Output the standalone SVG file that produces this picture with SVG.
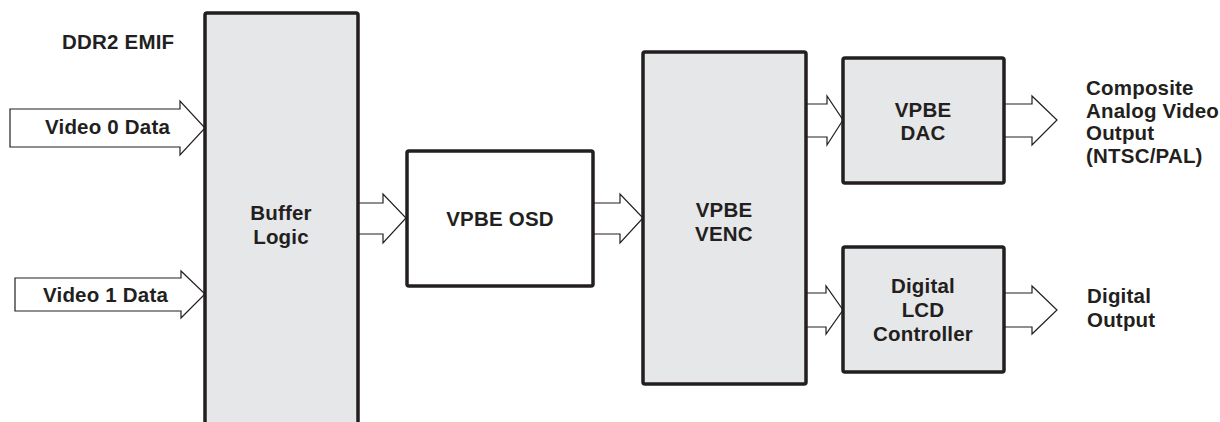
<svg xmlns="http://www.w3.org/2000/svg" width="1220" height="422" viewBox="0 0 1220 422">
<style>
.box{fill:#e6e7e8;stroke:#231f20;stroke-width:3.5;stroke-linejoin:round}
.wbox{fill:#ffffff;stroke:#231f20;stroke-width:3.5;stroke-linejoin:round}
.arr{fill:#ffffff;stroke:#231f20;stroke-width:1.2;stroke-linejoin:miter}
text{font-family:"Liberation Sans",Arial,sans-serif;font-weight:bold;font-size:20.5px;letter-spacing:0.2px;fill:#231f20}
.c{text-anchor:middle}
</style>
<rect width="1220" height="422" fill="#ffffff"/>
<g id="connectors">
<polygon class="arr" points="10,109 180,109 180,101 205,128 180,155 180,147 10,147"/>
<polygon class="arr" points="15,278 181,278 181,271 205,294 181,318 181,311 15,311"/>
<polygon class="arr" points="358,203 383,203 383,194 406,218 383,243 383,234 358,234"/>
<polygon class="arr" points="593,203 620,203 620,194 643,218 620,243 620,234 593,234"/>
<polygon class="arr" points="806,104 827,104 827,96 843,120 827,145 827,137 806,137"/>
<polygon class="arr" points="1004,104 1032,104 1032,96 1057,120 1032,145 1032,137 1004,137"/>
<polygon class="arr" points="806,293 826,293 826,286 843,310 826,334 826,327 806,327"/>
<polygon class="arr" points="1004,293 1032,293 1032,286 1057,310 1032,334 1032,327 1004,327"/>
</g>
<g id="ddr2-label"><text x="62" y="49">DDR2 EMIF</text></g>
<g id="video0-label"><text x="45" y="134">Video 0 Data</text></g>
<g id="video1-label"><text x="43" y="302">Video 1 Data</text></g>
<g id="buffer-logic">
<rect class="box" x="205" y="13" width="153" height="420" rx="2"/>
<text class="c" x="281" y="220">Buffer</text>
<text class="c" x="281" y="244">Logic</text>
</g>
<g id="vpbe-osd">
<rect class="wbox" x="407" y="151" width="186" height="135" rx="2"/>
<text class="c" x="500" y="226">VPBE OSD</text>
</g>
<g id="vpbe-venc">
<rect class="box" x="643" y="52" width="163" height="332" rx="2"/>
<text class="c" x="724" y="217">VPBE</text>
<text class="c" x="724" y="241">VENC</text>
</g>
<g id="vpbe-dac">
<rect class="box" x="843" y="58" width="161" height="125" rx="2"/>
<text class="c" x="923" y="117">VPBE</text>
<text class="c" x="923" y="140">DAC</text>
</g>
<g id="lcd-controller">
<rect class="box" x="843" y="247" width="161" height="125" rx="2"/>
<text class="c" x="923" y="293">Digital</text>
<text class="c" x="923" y="317">LCD</text>
<text class="c" x="923" y="341">Controller</text>
</g>
<g id="composite-output">
<text x="1086" y="95">Composite</text>
<text x="1086" y="118">Analog Video</text>
<text x="1086" y="140">Output</text>
<text x="1086" y="163">(NTSC/PAL)</text>
</g>
<g id="digital-output">
<text x="1087" y="303">Digital</text>
<text x="1087" y="327">Output</text>
</g>
</svg>
